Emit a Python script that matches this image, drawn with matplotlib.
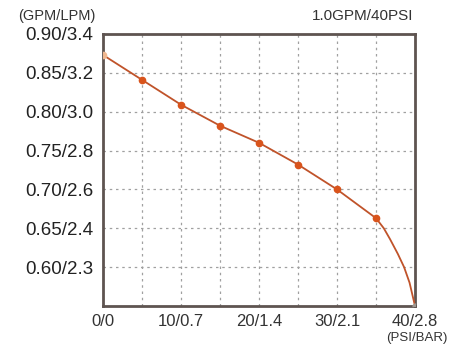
import matplotlib.pyplot as plt

# pressure (PSI) vs flow (GPM)
psi_pts = [0, 5, 10, 15, 20, 25, 30, 35, 40]
gpm_pts = [0.873, 0.841, 0.809, 0.782, 0.760, 0.732, 0.700, 0.663, 0.550]

# line (bends down after 35 PSI)
psi_line = [0, 5, 10, 15, 20, 25, 30, 35, 36.0, 36.8, 37.8, 38.6, 39.3, 40]
gpm_line = [0.873, 0.841, 0.809, 0.782, 0.760, 0.732, 0.700, 0.663,
            0.650, 0.636, 0.617, 0.600, 0.580, 0.550]

x_ticks = [0, 10, 20, 30, 40]
x_labels = ["0/0", "10/0.7", "20/1.4", "30/2.1", "40/2.8"]
y_ticks = [0.90, 0.85, 0.80, 0.75, 0.70, 0.65, 0.60]
y_labels = ["0.90/3.4", "0.85/3.2", "0.80/3.0", "0.75/2.8",
            "0.70/2.6", "0.65/2.4", "0.60/2.3"]

plt.rcParams['font.family'] = ['Liberation Sans', 'DejaVu Sans']

fig = plt.figure(figsize=(4.49, 3.5), dpi=100)
ax = fig.add_axes([0.2294, 0.1257, 0.6949, 0.7772])

ax.plot(psi_line, gpm_line, color="#c0532a", lw=1.3, zorder=3)
ax.plot(psi_pts[1:-1], gpm_pts[1:-1], "o", color="#d9541c", ms=4.5, zorder=4)
ax.plot(psi_pts[:1], gpm_pts[:1], "o", color="#f0b890", ms=4.5, zorder=4)
ax.plot(psi_pts[-1:], gpm_pts[-1:], "o", color="#a09890", ms=3.5, zorder=4)

ax.set_xlim(0, 40)
ax.set_ylim(0.55, 0.90)
ax.set_xticks(x_ticks)
ax.set_xticklabels(x_labels, fontsize=12, color="#333333")
ax.set_xticks([5, 15, 25, 35], minor=True)
ax.set_yticks(y_ticks)
ax.set_yticklabels(y_labels, fontsize=13.5, color="#222222")
ax.tick_params(which="both", length=0)
ax.tick_params(axis="y", pad=7)
ax.tick_params(axis="x", pad=6)

ax.grid(True, which="both", color="#a0a0a0", linestyle=(0, (2, 3)), lw=0.9)

for s in ax.spines.values():
    s.set_color("#5e5450")
    s.set_linewidth(2)

fig.text(0.04, 0.955, "(GPM/LPM)", fontsize=10.5, color="#333333", va="center")
fig.text(0.92, 0.955, "1.0GPM/40PSI", fontsize=11, color="#333333", va="center", ha="right")
fig.text(0.997, 0.035, "(PSI/BAR)", fontsize=9.5, color="#333333", va="center", ha="right")

fig.savefig("out.png", dpi=100)
